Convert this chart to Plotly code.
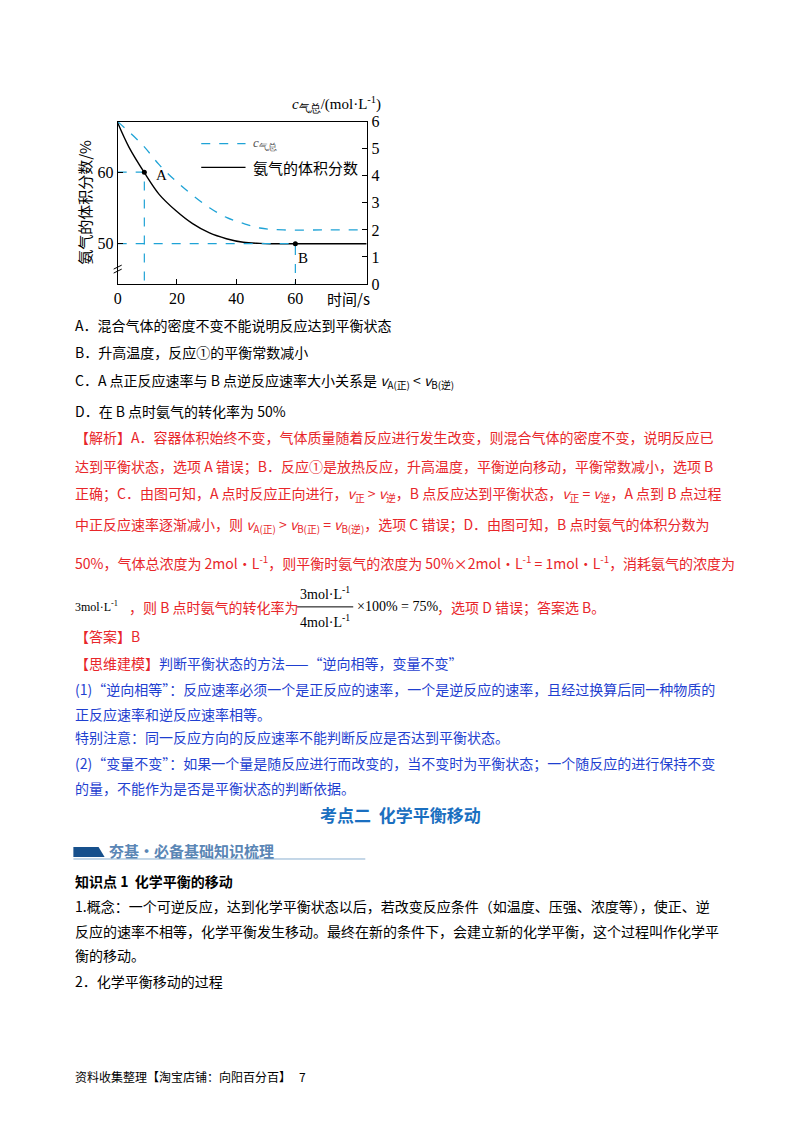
import plotly.graph_objects as go

# ---- data ----
t_frac = [0, 3.8, 8.9, 14, 19.7, 25.3, 31, 36.7, 42.4, 48, 51.5, 60, 70, 84]
nh3_frac = [66.9, 63.5, 60.0, 56.9, 54.6, 52.8, 51.5, 50.7, 50.2, 50.05, 50.0, 50.0, 50.0, 50.0]
t_conc = [0, 8.3, 14, 19.7, 25.3, 31, 36.7, 42.4, 48, 56, 70, 84]
c_total = [6.0, 5.15, 4.41, 3.8, 3.28, 2.82, 2.46, 2.24, 2.07, 2.0, 2.0, 2.0]
pointA = (9, 60)
pointB = (60, 50)
x_ticks = [0, 20, 40, 60]
yl_ticks = [50, 60]
yr_ticks = [0, 1, 2, 3, 4, 5, 6]

W, H = 800, 1132
FONT = "Noto Sans CJK SC"
CY = "#1fa3d6"
SC, OFF = 0.9885, 14.0

def PX(p):  # desired page x (px) -> paper fraction
    return ((p - OFF) / SC) / W
def PY(p):
    return 1 - ((p - OFF) / SC) / H

fig = go.Figure()
fig.add_trace(go.Scatter(x=t_conc, y=c_total, mode="lines", line=dict(color=CY, dash="dash", width=1.3),
                         yaxis="y2", line_shape="spline", showlegend=False))
fig.add_trace(go.Scatter(x=t_frac, y=nh3_frac, mode="lines", line=dict(color="black", width=1.4),
                         line_shape="spline", showlegend=False))
fig.add_trace(go.Scatter(x=[0, pointA[0], pointA[0]], y=[pointA[1], pointA[1], 44.36], mode="lines",
                         line=dict(color=CY, dash="dash", width=1.2), showlegend=False))
fig.add_trace(go.Scatter(x=[0, pointB[0], pointB[0]], y=[pointB[1], pointB[1], 44.36], mode="lines",
                         line=dict(color=CY, dash="dash", width=1.2), showlegend=False))
fig.add_trace(go.Scatter(x=[pointA[0], pointB[0]], y=[pointA[1], pointB[1]], mode="markers",
                         marker=dict(color="black", size=5), showlegend=False))

ax = dict(showgrid=False, zeroline=False, showline=True, linecolor="black", mirror=False,
          ticks="inside", ticklen=5, tickcolor="black",
          tickfont=dict(family="Liberation Serif", size=16, color="black"))
fig.update_layout(
    width=W, height=H, margin=dict(l=0, r=0, t=0, b=0),
    paper_bgcolor="white", plot_bgcolor="white",
    xaxis=dict(ax, domain=[PX(119), PX(367)], range=[0, 84.3], tickvals=x_ticks, mirror=True),
    yaxis=dict(ax, domain=[PY(283), PY(120)], range=[44.36, 67.07], tickvals=yl_ticks, anchor="x"),
    yaxis2=dict(ax, overlaying="y", side="right", range=[0, 6], tickvals=yr_ticks, anchor="x"),
)

ann = []
def T(x, y, s, size=14, color="black", bold=False, anchor="left", family=FONT, angle=0):
    if bold:
        s = "<b>" + s + "</b>"
    ann.append(dict(x=PX(x), y=PY(y), xref="paper", yref="paper", text=s, showarrow=False,
                    xanchor=anchor, yanchor="middle", textangle=angle,
                    font=dict(family=family, size=size, color=color)))

def L(xa, ya, xb, yb, color, width=1, dash=None):
    fig.add_shape(type="line", xref="paper", yref="paper", x0=PX(xa), x1=PX(xb), y0=PY(ya), y1=PY(yb),
                  line=dict(color=color, width=width, dash=dash))

# chart labels
T(290, 102, "<i>c</i><sub>气总</sub>/(mol·L<sup>-1</sup>)", 15, family="Liberation Serif")
T(86, 201, "氨气的体积分数/%", 15, anchor="center", angle=-90)
T(348, 298, "时间/s", 15, anchor="center")
T(155, 174, "A", 15, family="Liberation Serif")
T(296, 257, "B", 15, family="Liberation Serif")
L(202, 142, 246, 142, CY, 1.3, "dash")
T(251, 142, "<i>c</i><sub>气总</sub>", 13, color="#555", family="Liberation Serif")
L(202, 166, 246, 166, "black", 1.3)
T(251, 166, "氨气的体积分数", 15)
for dy in (-2, 2):
    L(115, 268 + dy + 2, 123, 268 + dy - 2, "black", 1)

# body text
T(75, 324, "A．混合气体的密度不变不能说明反应达到平衡状态")
T(75, 351, "B．升高温度，反应①的平衡常数减小")
T(75, 380, "C．A 点正反应速率与 B 点逆反应速率大小关系是 <i>v</i><sub>A(正)</sub> &lt; <i>v</i><sub>B(逆)</sub>")
T(75, 410, "D．在 B 点时氨气的转化率为 50%")
R = "#e8262a"
T(75, 437, "【解析】A．容器体积始终不变，气体质量随着反应进行发生改变，则混合气体的密度不变，说明反应已", color=R)
T(75, 466, "达到平衡状态，选项 A 错误；B．反应①是放热反应，升高温度，平衡逆向移动，平衡常数减小，选项 B", color=R)
T(75, 494, "正确；C．由图可知，A 点时反应正向进行，<i>v</i><sub>正</sub> &gt; <i>v</i><sub>逆</sub>，B 点反应达到平衡状态，<i>v</i><sub>正</sub> = <i>v</i><sub>逆</sub>，A 点到 B 点过程", color=R)
T(75, 525, "中正反应速率逐渐减小，则 <i>v</i><sub>A(正)</sub> &gt; <i>v</i><sub>B(正)</sub> = <i>v</i><sub>B(逆)</sub>，选项 C 错误；D．由图可知，B 点时氨气的体积分数为", color=R)
T(75, 562, "50%，气体总浓度为 2mol·L<sup>-1</sup>，则平衡时氨气的浓度为 50%×2mol·L<sup>-1</sup> = 1mol·L<sup>-1</sup>，消耗氨气的浓度为", color=R)
T(75, 607, "3mol·L<sup>-1</sup>", 12, family="Liberation Serif")
T(128, 607, "，则 B 点时氨气的转化率为", 14, color=R)
T(325, 593, "3mol·L<sup>-1</sup>", 14, anchor="center", family="Liberation Serif")
T(325, 621, "4mol·L<sup>-1</sup>", 14, anchor="center", family="Liberation Serif")
L(297, 607, 353, 607, "black", 1)
T(355, 607, "×100% = 75%", 14, family="Liberation Serif")
T(434, 607, "，选项 D 错误；答案选 B。", color=R)
T(75, 636, "【答案】B", color=R)
B = "#1f3fd0"
T(75, 663, "<span style='color:#e8262a'>【思维建模】</span>判断平衡状态的方法——“逆向相等，变量不变”", color=B)
T(75, 689, "(1)“逆向相等”：反应速率必须一个是正反应的速率，一个是逆反应的速率，且经过换算后同一种物质的", color=B)
T(75, 714, "正反应速率和逆反应速率相等。", color=B)
T(75, 738, "特别注意：同一反应方向的反应速率不能判断反应是否达到平衡状态。", color=B)
T(75, 764, "(2)“变量不变”：如果一个量是随反应进行而改变的，当不变时为平衡状态；一个随反应的进行保持不变", color=B)
T(75, 789, "的量，不能作为是否是平衡状态的判断依据。", color=B)
T(400, 815, "考点二  化学平衡移动", 17, color="#1a6fc0", bold=True, anchor="center")
fig.add_shape(type="path", xref="paper", yref="paper",
              path=f"M {PX(75)} {PY(848)} L {PX(100)} {PY(848)} L {PX(106)} {PY(858)} L {PX(75)} {PY(858)} Z",
              fillcolor="#17508c", line=dict(width=0))
L(75, 860, 365, 860, "#8ab0d0", 1)
T(108, 851, "夯基·必备基础知识梳理", 15, color="#5a86b5", bold=True)
T(75, 882, "知识点 1  化学平衡的移动", 14, bold=True)
T(75, 907, "1.概念：一个可逆反应，达到化学平衡状态以后，若改变反应条件（如温度、压强、浓度等），使正、逆")
T(75, 932, "反应的速率不相等，化学平衡发生移动。最终在新的条件下，会建立新的化学平衡，这个过程叫作化学平")
T(75, 956, "衡的移动。")
T(75, 982, "2．化学平衡移动的过程")
T(75, 1078, "资料收集整理【淘宝店铺：向阳百分百】   7", 12)

fig.update_layout(annotations=ann)
fig.write_html("out.html")
